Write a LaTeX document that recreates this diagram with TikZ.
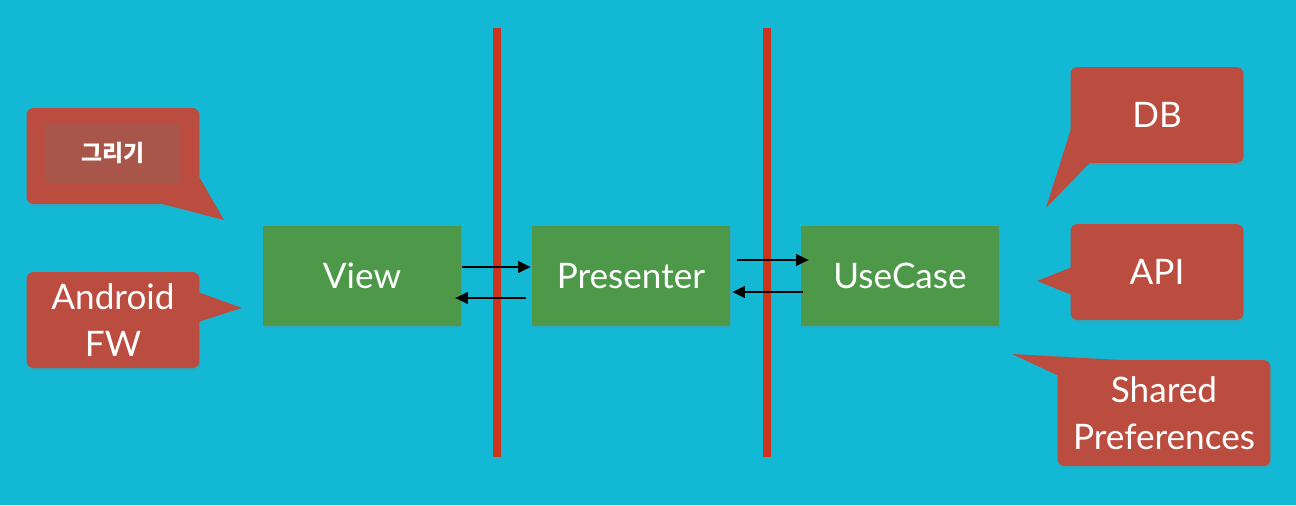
\documentclass[tikz,border=0pt]{standalone}
\usepackage{fontspec}
\setmainfont{Lato}
\newfontfamily\kofont{Noto Sans CJK KR}
\usetikzlibrary{calc,arrows.meta,positioning,shadows}
\definecolor{sky}{RGB}{19,184,212}
\definecolor{wallred}{RGB}{205,52,30}
\definecolor{layer}{RGB}{77,153,73}
\definecolor{bubble}{RGB}{186,77,63}
\definecolor{bubbleinner}{RGB}{168,86,74}

\begin{document}
\begin{tikzpicture}[x=0.02cm,y=-0.02cm,
    layerbox/.style={fill=layer,text=white,minimum width=3.96cm,minimum height=2cm,font=\fontsize{20}{27}\selectfont,
      drop shadow={shadow xshift=0.2mm,shadow yshift=-0.5mm,opacity=0.3}},
    callbox/.style={rounded corners=4pt,fill=bubble,text=white,align=center,minimum width=3.46cm,minimum height=1.92cm,
      font=\fontsize{20}{27}\selectfont,drop shadow={shadow xshift=0.2mm,shadow yshift=-0.5mm,opacity=0.3}},
    tail/.style={fill=bubble},
    wall/.style={draw=wallred,line width=4.5pt},
    flow/.style={-{Triangle[length=2.5mm,width=2.3mm]},line width=1.2pt,draw=black}]
   \fill[sky] (0,0) rectangle (1296,505);
   \useasboundingbox (0,0) rectangle (1296,505);
   % layer walls
   \draw[wall] (497,28) -- (497,457);
   \draw[wall] (767,28) -- (767,457);
   % layers
   \node[layerbox] (view)      at (362,276) {View};
   \node[layerbox] (presenter) at (631,276) {Presenter};
   \node[layerbox] (usecase)   at (900,276) {UseCase};
   \draw[flow] ($(view.east)+(1,-9)$) -- ($(presenter.west)+(-1,-9)$);
   \draw[flow] ($(presenter.west)+(-6,22)$) -- ($(view.east)+(-6,22)$);
   \draw[flow] ($(presenter.east)+(7,-16)$) -- ($(usecase.west)+(8,-16)$);
   \draw[flow] ($(usecase.west)+(2,16)$) -- ($(presenter.east)+(2,16)$);
   % left bubbles
   \node[callbox] (draw) at (113,156) {};
   \node[fill=bubbleinner,minimum width=2.7cm,minimum height=1.2cm,text=white,
     font=\kofont\bfseries\fontsize{13}{16}\selectfont] (drawtxt) at (113,153) {그리기};
   \coordinate (drawtip) at (224,220);
   \fill[tail] ($(draw.south east)+(-40,-1)$) -- (drawtip) -- ($(draw.south east)+(-1,-28)$) -- cycle;
   \node[callbox] (android) at (113,320) {Android\\FW};
   \coordinate (androidtip) at (242,308);
   \fill[tail] ($(android.east)+(-2,-28)$) -- (androidtip) -- ($(android.east)+(-2,2)$) -- cycle;
   % right bubbles
   \node[callbox] (db) at (1157,115) {DB};
   \coordinate (dbtip) at (1046,208);
   \fill[tail] ($(db.south west)+(1,-35)$) -- (dbtip) -- ($(db.south west)+(20,-1)$) -- cycle;
   \node[callbox] (api) at (1157,272) {API};
   \coordinate (apitip) at (1037,281);
   \fill[tail] ($(api.west)+(2,-5)$) -- (apitip) -- ($(api.west)+(2,23)$) -- cycle;
   \node[callbox,minimum width=4.26cm,minimum height=2.12cm] (shared) at (1164,413) {Shared\\Preferences};
   \coordinate (sharedtip) at (1012,354);
   \fill[tail] (sharedtip) -- ($(shared.north west)+(75,1)$) -- ($(shared.north west)+(1,16)$) -- cycle;
  \end{tikzpicture}
\end{document}
